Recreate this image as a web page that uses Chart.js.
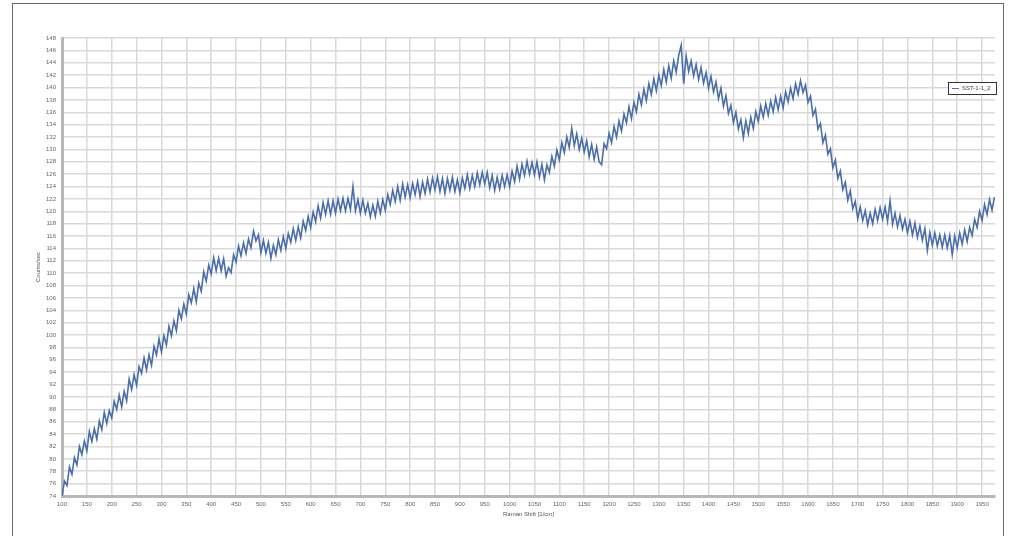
<!DOCTYPE html>
<html>
<head>
<meta charset="utf-8">
<script src="https://cdn.jsdelivr.net/npm/chart.js@4/dist/chart.umd.min.js"></script>
<style>
  html, body { margin: 0; padding: 0; background: #fff; }
  #frame { position: absolute; left: 12px; top: 3px; width: 990px; height: 540px;
           border-left: 1.5px solid #6a6a6a; border-top: 1.5px solid #6a6a6a; border-right: 1.5px solid #6a6a6a; }
  #sample-chart { position: absolute; left: 0; top: 0; }
</style>
</head>
<body>
<div id="frame"></div>
<canvas id="sample-chart" width="1009" height="536"></canvas>
<script>
// Raman spectrum, sampled every 5 1/cm starting at 100
var shiftStart = 100
var shiftStep = 5
var seriesName = 'SST-1-1_2'
var counts = [
  74.0, 76.4, 75.7, 78.7, 77.5,
  80.2, 79.0, 82.0, 80.7, 82.9,
  81.3, 84.4, 82.8, 84.9, 83.2,
  86.1, 84.7, 87.5, 85.7, 87.8,
  86.6, 89.3, 88.0, 90.3, 88.4,
  90.9, 89.4, 92.9, 91.2, 93.6,
  91.9, 94.9, 93.8, 96.3, 94.4,
  96.8, 95.1, 98.2, 96.8, 99.4,
  97.3, 99.9, 98.4, 101.4, 99.9,
  102.3, 100.7, 104.0, 102.6, 105.0,
  103.4, 106.5, 105.2, 107.5, 105.4,
  108.4, 107.1, 110.2, 108.7, 111.3,
  109.9, 112.5, 110.4, 112.4, 110.4,
  112.3, 109.5, 110.9, 110.1, 113.0,
  111.8, 114.4, 112.8, 114.9, 113.2,
  115.5, 114.1, 116.8, 115.2, 116.2,
  113.3, 115.3, 113.2, 115.0, 112.4,
  114.5, 113.0, 115.4, 113.7, 115.9,
  114.0, 116.4, 115.0, 117.2, 115.3,
  117.5, 115.7, 118.4, 116.9, 119.2,
  117.4, 119.9, 118.3, 120.9, 118.9,
  121.4, 119.5, 121.7, 119.5, 121.7,
  119.7, 122.0, 120.1, 122.1, 120.1,
  122.1, 120.3, 124.0, 120.1, 121.9,
  119.7, 121.8, 119.7, 121.3, 119.1,
  121.0, 119.2, 121.6, 119.7, 121.9,
  120.2, 122.7, 121.1, 123.4, 121.6,
  124.0, 121.8, 124.4, 122.3, 124.3,
  122.2, 124.5, 122.7, 124.8, 122.4,
  124.7, 122.9, 125.2, 123.1, 125.4,
  123.5, 125.6, 123.2, 125.3, 122.9,
  125.3, 123.4, 125.5, 123.2, 125.1,
  123.0, 125.4, 123.7, 125.9, 123.7,
  125.8, 124.0, 126.2, 124.3, 126.3,
  124.4, 126.3, 123.8, 125.8, 123.4,
  125.5, 123.6, 125.8, 124.0, 125.9,
  124.0, 126.5, 124.8, 127.3, 125.2,
  127.6, 125.8, 128.1, 126.0, 127.9,
  125.9, 128.0, 125.5, 127.6, 125.1,
  127.5, 126.3, 128.9, 127.3, 129.9,
  128.3, 131.1, 129.5, 132.0, 130.3,
  133.4, 130.6, 132.5, 130.0, 131.8,
  129.6, 131.4, 128.8, 130.8, 128.4,
  130.4, 128.0, 127.5, 130.9, 130.1,
  132.6, 131.1, 133.7, 132.0, 134.6,
  133.0, 135.7, 134.3, 136.9, 135.0,
  137.6, 136.1, 138.9, 137.2, 139.7,
  137.9, 140.6, 138.9, 141.4, 139.5,
  142.0, 140.3, 142.9, 140.9, 143.5,
  141.5, 144.3, 142.5, 145.2, 146.8,
  140.6, 145.1, 142.6, 144.3, 141.9,
  143.7, 141.3, 143.2, 140.7, 142.4,
  139.9, 141.8, 139.3, 140.9, 138.2,
  139.9, 137.0, 138.7, 135.8, 137.1,
  134.3, 136.0, 133.3, 134.8, 131.9,
  134.6, 132.6, 135.2, 133.4, 136.1,
  134.5, 137.0, 135.2, 137.4, 135.5,
  137.8, 136.1, 138.4, 136.4, 138.6,
  136.7, 139.3, 137.7, 139.9, 138.2,
  140.6, 138.9, 141.1, 139.2, 140.4,
  137.6, 138.6, 135.5, 136.5, 133.3,
  134.2, 131.1, 132.3, 129.2, 130.1,
  127.0, 128.3, 125.3, 126.5, 123.5,
  124.7, 121.8, 123.3, 120.4, 121.6,
  118.8, 120.7, 118.5, 120.1, 117.8,
  119.7, 118.0, 120.3, 118.5, 120.6,
  118.7, 120.7, 118.4, 121.7, 117.9,
  119.7, 117.5, 119.3, 117.1, 118.7,
  116.5, 118.4, 116.2, 118.1, 115.8,
  117.6, 115.3, 117.2, 113.7, 116.6,
  114.5, 116.5, 114.4, 116.2, 114.2,
  116.2, 114.1, 116.1, 113.0, 116.0,
  114.1, 116.5, 114.7, 117.0, 115.1,
  117.4, 116.1, 118.7, 117.4, 120.0,
  118.5, 121.1, 119.5, 121.9, 120.2,
  122.3
]

var points = counts.map(function (c, i) {
    return { x: shiftStart + i * shiftStep, y: c }
})

var legendBox = {
    id: 'legendBox',
    afterDraw: function (chart) {
        var ctx = chart.ctx
        var ds = chart.data.datasets[0]
        ctx.save()
        ctx.fillStyle = '#fff'
        ctx.fillRect(948, 82, 48, 12)
        ctx.strokeStyle = '#333'
        ctx.lineWidth = 1
        ctx.strokeRect(948.5, 82.5, 48, 12)
        ctx.strokeStyle = ds.borderColor
        ctx.lineWidth = 1
        ctx.beginPath()
        ctx.moveTo(952, 88.5)
        ctx.lineTo(959, 88.5)
        ctx.stroke()
        ctx.fillStyle = '#444'
        ctx.font = '6px "Liberation Sans"'
        ctx.textBaseline = 'middle'
        ctx.fillText(ds.label, 962, 88.5)
        ctx.restore()
    }
}

var tickFont = { family: '"Liberation Sans"', size: 6 }

var myChart = new Chart(document.getElementById('sample-chart'), {
    type: 'line',
    data: {
        datasets: [{
            label: seriesName,
            data: points,
            borderColor: '#4a6ea8',
            borderWidth: 1.6,
            pointRadius: 0,
            tension: 0,
            fill: false
        }]
    },
    options: {
        responsive: false,
        animation: false,
        layout: { padding: { left: 28, top: 38, right: 14, bottom: 0 } },
        plugins: { legend: { display: false }, tooltip: { enabled: false } },
        scales: {
            x: {
                type: 'linear',
                min: 100,
                max: 1976,
                afterFit: function (s) { s.height = 40 },
                ticks: { stepSize: 50, includeBounds: false, font: tickFont, color: '#666', padding: 5, maxRotation: 0, autoSkip: false,
                         callback: function (v) { return String(v) } },
                grid: { color: '#d9d9d9', lineWidth: 1.5, drawTicks: false },
                border: { color: '#b8b8b8', width: 3 },
                title: { display: true, text: 'Raman Shift [1/cm]', font: tickFont, color: '#555', padding: { top: 0, bottom: 18 } }
            },
            y: {
                min: 74,
                max: 148,
                afterFit: function (s) { s.width = 34 },
                ticks: { stepSize: 2, font: tickFont, color: '#666', padding: 6, autoSkip: false,
                         callback: function (v) { return String(v) } },
                grid: { color: '#d9d9d9', lineWidth: 1.5, drawTicks: false },
                border: { color: '#b8b8b8', width: 3 },
                title: { display: true, text: 'Counts/sec', font: tickFont, color: '#555', padding: { top: 7, bottom: 0 } }
            }
        }
    },
    plugins: [legendBox]
})
</script>
</body>
</html>
